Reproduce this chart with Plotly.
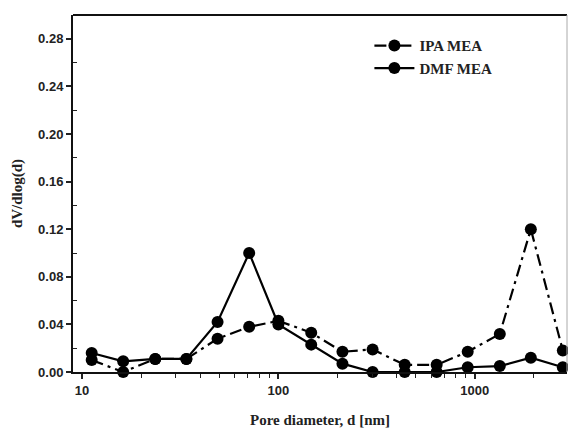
import plotly.graph_objects as go

pore_d = [11.2, 16.2, 23.6, 34, 49, 71, 100, 147, 212, 302, 440, 640, 921, 1342, 1931, 2810]
ipa_mea = [0.010, 0.000, 0.011, 0.011, 0.028, 0.038, 0.043, 0.033, 0.017, 0.019, 0.006, 0.006, 0.017, 0.032, 0.120, 0.018]
dmf_mea = [0.016, 0.009, 0.011, 0.011, 0.042, 0.100, 0.040, 0.023, 0.007, 0.000, 0.000, 0.000, 0.004, 0.005, 0.012, 0.004]

fig = go.Figure()
fig.add_trace(go.Scatter(x=pore_d, y=ipa_mea, name="<b>IPA MEA</b>", mode="lines+markers",
                         line=dict(color="black", width=2.2, dash="12px,5px,3px,5px"),
                         marker=dict(color="black", size=12), cliponaxis=False))
fig.add_trace(go.Scatter(x=pore_d, y=dmf_mea, name="<b>DMF MEA</b>", mode="lines+markers",
                         line=dict(color="black", width=2.2),
                         marker=dict(color="black", size=12), cliponaxis=False))

tick_font = dict(family="Liberation Sans, Arial", size=13, color="#222")
title_font = dict(family="Liberation Serif, Times New Roman", size=15, color="#222")

fig.update_layout(
    width=568, height=430,
    margin=dict(l=73, r=1, t=15, b=58),
    paper_bgcolor="white", plot_bgcolor="white",
    showlegend=True,
    legend=dict(x=0.60, y=0.96, xanchor="left", yanchor="top",
                font=dict(family="Liberation Serif, Times New Roman", size=15, color="#222"),
                bgcolor="rgba(0,0,0,0)", tracegroupgap=0, itemwidth=40),
    xaxis=dict(type="log", range=[0.954, 3.47],
               tickvals=[10, 100, 1000], ticktext=["<b>10</b>", "<b>100</b>", "<b>1000</b>"],
               ticks="outside", ticklen=5, tickwidth=1.5, tickcolor="#222",
               minor=dict(ticks="outside", ticklen=4, tickwidth=1.2, tickcolor="#222",
                          tickvals=[20, 30, 40, 50, 60, 70, 80, 90, 200, 300, 400, 500, 600, 700, 800, 900,
                                    2000, 3000]),
               showline=True, linecolor="#111", linewidth=2, mirror=False,
               showgrid=False, zeroline=False, tickfont=tick_font,
               title=dict(text="<b>Pore diameter, d [nm]</b>", font=title_font, standoff=18)),
    yaxis=dict(range=[0, 0.30], tickvals=[0, 0.04, 0.08, 0.12, 0.16, 0.20, 0.24, 0.28],
               ticktext=["<b>0.00</b>", "<b>0.04</b>", "<b>0.08</b>", "<b>0.12</b>", "<b>0.16</b>",
                         "<b>0.20</b>", "<b>0.24</b>", "<b>0.28</b>"],
               ticks="outside", ticklen=5, tickwidth=1.5, tickcolor="#222",
               minor=dict(ticks="inside", ticklen=4, tickwidth=1.2, tickcolor="#222",
                          tickvals=[0.02, 0.06, 0.10, 0.14, 0.18, 0.22, 0.26]),
               showline=True, linecolor="#111", linewidth=2,
               showgrid=False, zeroline=False, tickfont=tick_font,
               title=dict(text="<b>dV/dlog(d)</b>", font=title_font, standoff=12)),
    shapes=[
        dict(type="line", xref="paper", yref="paper", x0=0, x1=1, y0=1, y1=1,
             line=dict(color="#111", width=2)),
        dict(type="line", xref="paper", yref="paper", x0=1, x1=1, y0=0, y1=1,
             line=dict(color="#aaa", width=1)),
    ],
)

fig.write_html("out.html")
